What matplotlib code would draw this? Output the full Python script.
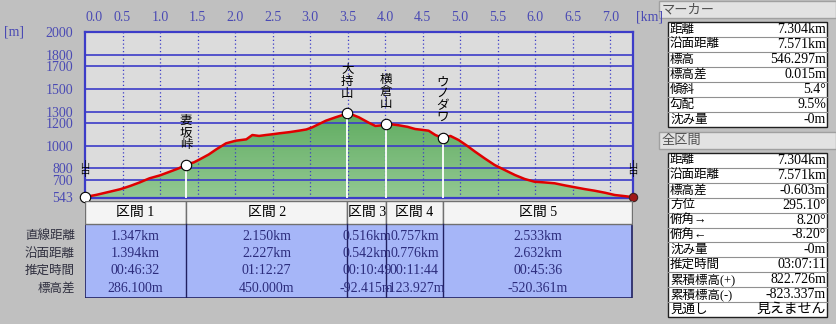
import numpy as np
import matplotlib.pyplot as plt
from matplotlib.patches import Rectangle, Polygon
from matplotlib.colors import LinearSegmentedColormap

plt.rcParams['font.family'] = ['Liberation Serif', 'Noto Sans CJK JP']

# profile (km, m)
dist = [0.00, 0.15, 0.33, 0.47, 0.60, 0.73, 0.86, 1.00, 1.13, 1.25, 1.347,
        1.45, 1.53, 1.65, 1.75, 1.88, 2.01, 2.15, 2.23, 2.32, 2.41, 2.50,
        2.59, 2.72, 2.85, 2.95, 3.03, 3.12, 3.21, 3.34, 3.42, 3.497, 3.57,
        3.65, 3.78, 3.87, 3.95, 4.013, 4.10, 4.18, 4.30, 4.40, 4.50, 4.58,
        4.67, 4.770, 4.87, 4.98, 5.10, 5.20, 5.33, 5.46, 5.60, 5.73, 5.86,
        5.99, 6.12, 6.26, 6.40, 6.53, 6.66, 6.79, 6.93, 7.06, 7.18, 7.304]
elev = [547, 566, 594, 616, 644, 676, 712, 738, 770, 800, 833,
        852, 879, 922, 967, 1020, 1043, 1055, 1093, 1085, 1093, 1100,
        1108, 1118, 1131, 1142, 1161, 1190, 1219, 1249, 1266, 1283, 1270,
        1249, 1202, 1173, 1178, 1190, 1186, 1179, 1165, 1146, 1138, 1131,
        1093, 1066, 1085, 1049, 995, 946, 886, 829, 783, 741, 706,
        682, 676, 668, 649, 633, 617, 603, 585, 565, 556, 546]

mark_names = ['妻坂峠', '大持山', '横倉山', 'ウノダワ']
seg_len = [1.347, 2.150, 0.516, 0.757, 2.533]
seg_names = ['区間 1', '区間 2', '区間 3', '区間 4', '区間 5']
row_labels = ['直線距離', '沿面距離', '推定時間', '標高差']
seg_values = [
    ['1.347km', '1.394km', '00:46:32', '286.100m'],
    ['2.150km', '2.227km', '01:12:27', '450.000m'],
    ['0.516km', '0.542km', '00:10:49', '-92.415m'],
    ['0.757km', '0.776km', '00:11:44', '-123.927m'],
    ['2.533km', '2.632km', '00:45:36', '-520.361m'],
]
yticks = [543, 700, 800, 1000, 1200, 1300, 1500, 1700, 1800, 2000]
xticks = [0.0, 0.5, 1.0, 1.5, 2.0, 2.5, 3.0, 3.5, 4.0, 4.5, 5.0, 5.5, 6.0, 6.5, 7.0]

marker_rows = [('距離', '7.304km'), ('沿面距離', '7.571km'), ('標高', '546.297m'),
               ('標高差', '0.015m'), ('傾斜', '5.4°'), ('勾配', '9.5%'), ('沈み量', '-0m')]
total_rows = [('距離', '7.304km'), ('沿面距離', '7.571km'), ('標高差', '-0.603m'),
              ('方位', '295.10°'), ('俯角→', '8.20°'), ('俯角←', '-8.20°'),
              ('沈み量', '-0m'), ('推定時間', '03:07:11'), ('累積標高(+)', '822.726m'),
              ('累積標高(-)', '-823.337m'), ('見通し', '見えません')]

W, H = 836, 324
fig = plt.figure(figsize=(W / 100, H / 100), dpi=100)
fig.patch.set_facecolor('#c0c0c0')


def px_axes(l, t, r, b):
    return fig.add_axes([l / W, 1 - b / H, (r - l) / W, (b - t) / H])


blue = '#3c3cc8'
tickblue = '#4a4ab4'
xmax = dist[-1]
ymin, ymax = 543, 2000
numsize = 10

ax = px_axes(85, 32, 633, 197.5)
ax.set_facecolor('#dcdcdc')
ax.set_xlim(0, xmax)
ax.set_ylim(ymin, ymax)

# green gradient under the profile
verts = np.column_stack([np.r_[dist[0], dist, dist[-1]], np.r_[ymin, elev, ymin]])
poly = Polygon(verts, closed=True, facecolor='none', edgecolor='none')
ax.add_patch(poly)
cmap = LinearSegmentedColormap.from_list('g', ['#92c892', '#5fac5f'])
grad = np.linspace(0, 1, 256).reshape(-1, 1)
im = ax.imshow(grad, extent=[0, xmax, ymin, 1300], origin='lower', aspect='auto',
               cmap=cmap, zorder=1)
im.set_clip_path(poly)

for y in yticks[1:-1]:
    ax.axhline(y, color=blue, lw=1.2, zorder=2)
for x in xticks[1:]:
    ax.axvline(x, color=blue, lw=0.9, ls=(0, (1, 2)), zorder=2)

# white drop lines + markers
cum = np.cumsum(seg_len)
mark_d = list(cum[:4])
mark_e = [np.interp(d, dist, elev) for d in mark_d]
for d, e in zip(mark_d, mark_e):
    ax.plot([d, d], [ymin, e], color='white', lw=1.3, zorder=3)

ax.plot(dist, elev, color='#e00000', lw=1.8, zorder=4)
ax.plot([0] + mark_d, [elev[0]] + mark_e, 'o', ms=7.5, mfc='white', mec='black',
        mew=0.8, zorder=6, clip_on=False)
ax.plot([xmax], [elev[-1]], 'o', ms=6, mfc='#a01818', mec='#402020', mew=0.8,
        zorder=6, clip_on=False)

for name, d, e in zip(mark_names, mark_d, mark_e):
    ax.annotate('\n'.join(name), (d, e), xytext=(0, 10), textcoords='offset points',
                ha='center', va='bottom', fontsize=9, linespacing=0.9, zorder=7,
                family='Noto Sans CJK JP')
for d in [0, xmax]:
    ax.text(d, 790, '山\n中', ha='center', va='center', fontsize=6.5, linespacing=0.75,
            family='Noto Sans CJK JP', zorder=7, clip_on=False)

ax.set_yticks(yticks)
ax.set_yticklabels([str(v) for v in yticks])
ax.xaxis.tick_top()
ax.set_xticks(xticks)
ax.set_xticklabels(['%.1f' % v for v in xticks])
ax.tick_params(length=0, labelsize=numsize, colors=tickblue)
ax.tick_params(axis='y', pad=8.5)
ax.tick_params(axis='x', pad=5.5)
ax.get_xticklabels()[0].set_horizontalalignment('left')
for s in ax.spines.values():
    s.set_color(blue)
    s.set_linewidth(1.6)
ax.spines['left'].set_linestyle((0, (1, 1)))
fig.text(4 / W, 1 - 32 / H, '[m]', color=tickblue, fontsize=numsize, va='center')
fig.text(636 / W, 1 - 17 / H, '[km]', color=tickblue, fontsize=numsize, va='center')

# section table, sharing the km scale
tax = px_axes(85, 201, 633, 298)
tax.set_xlim(0, xmax)
tax.set_ylim(298, 201)
tax.axis('off')
edges = np.r_[0, cum]
edges[-1] = min(edges[-1], xmax - 0.01)
tax.add_patch(Rectangle((0, 224), edges[-1], 74, facecolor='#a6b6f8',
                        edgecolor='#202060', lw=1.2))
for i, name in enumerate(seg_names):
    x0, x1 = edges[i], edges[i + 1]
    tax.add_patch(Rectangle((x0, 201), x1 - x0, 23, facecolor='#f4f4f4',
                            edgecolor='#707070', lw=1))
    clip = Rectangle((x0, 201), x1 - x0, 97, transform=tax.transData)
    t = tax.text((x0 + x1) / 2, 212.5, name, ha='center', va='center', fontsize=numsize,
                 color='black')
    t.set_clip_path(clip)
    if i > 0:
        tax.plot([x0, x0], [224, 298], color='#202060', lw=1)
    for j, v in enumerate(seg_values[i]):
        t = tax.text((x0 + x1) / 2, 236 + 17.5 * j, v, ha='center', va='center',
                     fontsize=numsize, color='#2c2c7c')
        t.set_clip_path(clip)
for j, lab in enumerate(row_labels):
    fig.text(75 / W, 1 - (236 + 17.5 * j) / H, lab, ha='right', va='center',
             fontsize=9, color='#303040')

# right info panel (pixel coordinates)
pax = px_axes(655, 0, 836, 324)
pax.set_xlim(655, 836)
pax.set_ylim(324, 0)
pax.axis('off')


def panel(title, top, rows, row_h):
    pax.add_patch(Rectangle((659, top), 177, 17, facecolor='#e2e2e2',
                            edgecolor='#a0a0a0', lw=1))
    pax.text(662, top + 8.5, title, va='center', fontsize=9.5, color='#505050',
             family='Noto Sans CJK JP')
    t0 = top + 21
    pax.add_patch(Rectangle((668, t0), 159, row_h * len(rows), facecolor='white',
                            edgecolor='#202020', lw=1))
    for k, (lab, val) in enumerate(rows):
        yc = t0 + row_h * (k + 0.5)
        if k > 0:
            pax.plot([668, 827], [t0 + row_h * k] * 2, color='#909090', lw=0.8)
        pax.text(670, yc, lab, va='center', fontsize=9, color='black')
        pax.text(826, yc, val, va='center', ha='right', fontsize=numsize, color='black')


panel('マーカー', 1, marker_rows, 15)
panel('全区間', 132, total_rows, 14.9)

fig.savefig('out.png', dpi=100, facecolor=fig.get_facecolor())
